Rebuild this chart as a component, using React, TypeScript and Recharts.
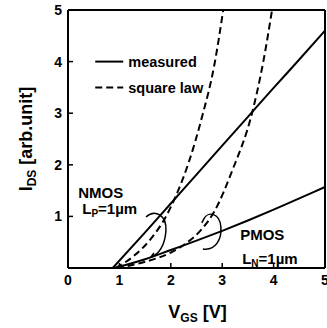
import React from 'react';
import { LineChart, Line, XAxis, YAxis, ReferenceDot } from 'recharts';

// values (V_GS in V, I_DS in arb. units)
const nmosMeasured = [
  { x: 0.87, y: 0 }, { x: 1.5, y: 0.69 }, { x: 2, y: 1.25 }, { x: 2.5, y: 1.81 },
  { x: 3, y: 2.37 }, { x: 3.5, y: 2.93 }, { x: 4, y: 3.49 }, { x: 4.5, y: 4.04 }, { x: 5, y: 4.6 },
];
const nmosSquare = [
  { x: 0.93, y: 0 }, { x: 1.3, y: 0.25 }, { x: 1.6, y: 0.55 }, { x: 1.89, y: 0.97 },
  { x: 2.1, y: 1.4 }, { x: 2.35, y: 2.05 }, { x: 2.6, y: 2.9 }, { x: 2.85, y: 3.95 }, { x: 3.02, y: 5 },
];
const pmosMeasured = [
  { x: 0.9, y: 0 }, { x: 1.5, y: 0.17 }, { x: 2, y: 0.35 }, { x: 2.5, y: 0.53 }, { x: 3, y: 0.72 },
  { x: 3.5, y: 0.92 }, { x: 4, y: 1.13 }, { x: 4.5, y: 1.35 }, { x: 5, y: 1.57 },
];
const pmosSquare = [
  { x: 0.95, y: 0 }, { x: 1.5, y: 0.12 }, { x: 2, y: 0.3 }, { x: 2.3, y: 0.48 }, { x: 2.6, y: 0.75 },
  { x: 2.85, y: 1.1 }, { x: 3.2, y: 1.9 }, { x: 3.58, y: 3.0 }, { x: 3.8, y: 4.0 }, { x: 3.97, y: 5 },
];

const xTicks = [0, 1, 2, 3, 4, 5];
const yTicks = [1, 2, 3, 4, 5];
const innerTicks = [1, 2, 3, 4];

const FONT = '"Liberation Sans", Arial, Helvetica, sans-serif';
const ink = '#000';

const txt = { fontFamily: FONT, fontWeight: 700, fill: ink } as const;

const LegendShape = (p: any) => (
  <g>
    <line x1={p.cx} y1={p.cy} x2={p.cx + 28} y2={p.cy} stroke={ink} strokeWidth={2} />
    <text x={p.cx + 33} y={p.cy + 5} fontSize={14.5} {...txt}>measured</text>
    <line x1={p.cx} y1={p.cy + 26} x2={p.cx + 28} y2={p.cy + 26} stroke={ink} strokeWidth={2} strokeDasharray="7 4" />
    <text x={p.cx + 33} y={p.cy + 31} fontSize={14.5} {...txt}>square law</text>
  </g>
);

const NmosLabel = (p: any) => (
  <g>
    <text x={p.cx} y={p.cy} fontSize={15} {...txt}>NMOS</text>
    <text x={p.cx + 4} y={p.cy + 16} fontSize={15} {...txt}>
      L<tspan fontSize={10} dy={3}>P</tspan><tspan dy={-3}>=1µm</tspan>
    </text>
  </g>
);

const PmosLabel = (p: any) => (
  <g>
    <text x={p.cx} y={p.cy} fontSize={15} {...txt}>PMOS</text>
    <text x={p.cx + 2} y={p.cy + 24} fontSize={15} {...txt}>
      L<tspan fontSize={10} dy={3}>N</tspan><tspan dy={-3}>=1µm</tspan>
    </text>
  </g>
);

const NmosArc = (p: any) => (
  <path
    d={`M ${p.cx - 11} ${p.cy - 18} C ${p.cx - 2} ${p.cy - 26}, ${p.cx + 10} ${p.cy - 20}, ${p.cx + 9} ${p.cy - 4} C ${p.cx + 8} ${p.cy + 10}, ${p.cx + 2} ${p.cy + 20}, ${p.cx - 6} ${p.cy + 22} l 3 -4`}
    fill="none" stroke={ink} strokeWidth={1.5}
  />
);

const PmosArc = (p: any) => (
  <path
    d={`M ${p.cx - 6} ${p.cy - 14} l -2 4 M ${p.cx - 6} ${p.cy - 14} C ${p.cx - 2} ${p.cy - 22}, ${p.cx + 10} ${p.cy - 20}, ${p.cx + 11} ${p.cy - 6} C ${p.cx + 12} ${p.cy + 6}, ${p.cx + 6} ${p.cy + 18}, ${p.cx - 7} ${p.cy + 16}`}
    fill="none" stroke={ink} strokeWidth={1.5}
  />
);

const YTitle = (props: any) => {
  const vb = props.viewBox;
  const cy = vb.y + vb.height / 2;
  const x = 32;
  return (
    <text x={x} y={cy} transform={`rotate(-90 ${x} ${cy})`} textAnchor="middle" fontSize={18} {...txt}>
      I<tspan fontSize={12} dy={4}>DS</tspan><tspan dy={-4}> [arb.unit]</tspan>
    </text>
  );
};

const XTitle = (props: any) => {
  const vb = props.viewBox;
  const cx = vb.x + vb.width / 2 + 1;
  return (
    <text x={cx} y={318} textAnchor="middle" fontSize={18} {...txt}>
      V<tspan fontSize={12} dy={4}>GS</tspan><tspan dy={-4}> [V]</tspan>
    </text>
  );
};

export default function App() {
  const tickStyle = { fontSize: 14, fontFamily: FONT, fontWeight: 700, fill: ink };
  return (
    <div style={{ position: 'absolute', left: 0, top: 0, background: '#fff' }}>
      <LineChart width={327} height={328} margin={{ top: 10, right: 2, bottom: 0, left: 0 }}>
        <XAxis
          type="number" dataKey="x" domain={[0, 5]} ticks={xTicks} interval={0}
          height={60} tick={tickStyle} tickSize={-5} tickMargin={12}
          axisLine={{ stroke: ink, strokeWidth: 2 }} tickLine={{ stroke: ink, strokeWidth: 1.5 }}
          label={<XTitle />}
        />
        <XAxis
          xAxisId="top" orientation="top" mirror type="number" domain={[0, 5]} ticks={innerTicks}
          tickFormatter={() => ''} tickSize={5}
          axisLine={{ stroke: ink, strokeWidth: 2 }} tickLine={{ stroke: ink, strokeWidth: 1.5 }}
        />
        <YAxis
          type="number" domain={[0, 5]} ticks={yTicks} interval={0} width={68}
          tick={tickStyle} tickSize={-5} tickMargin={11}
          axisLine={{ stroke: ink, strokeWidth: 2 }} tickLine={{ stroke: ink, strokeWidth: 1.5 }}
          label={<YTitle />}
        />
        <YAxis
          yAxisId="right" orientation="right" mirror type="number" domain={[0, 5]} ticks={innerTicks}
          tickFormatter={() => ''} tickSize={5}
          axisLine={{ stroke: ink, strokeWidth: 2 }} tickLine={{ stroke: ink, strokeWidth: 1.5 }}
        />
        <Line data={nmosMeasured} dataKey="y" type="monotone" stroke={ink} strokeWidth={2} dot={false} isAnimationActive={false} />
        <Line data={pmosMeasured} dataKey="y" type="monotone" stroke={ink} strokeWidth={2} dot={false} isAnimationActive={false} />
        <Line data={nmosSquare} dataKey="y" type="monotone" stroke={ink} strokeWidth={2} strokeDasharray="7 4" dot={false} isAnimationActive={false} />
        <Line data={pmosSquare} dataKey="y" type="monotone" stroke={ink} strokeWidth={2} strokeDasharray="7 4" dot={false} isAnimationActive={false} />
        <ReferenceDot x={0.53} y={4} shape={LegendShape} />
        <ReferenceDot x={0.2} y={1.36} shape={NmosLabel} />
        <ReferenceDot x={3.35} y={0.55} shape={PmosLabel} />
        <ReferenceDot x={1.73} y={0.64} shape={NmosArc} />
        <ReferenceDot x={2.76} y={0.68} shape={PmosArc} />
      </LineChart>
    </div>
  );
}
